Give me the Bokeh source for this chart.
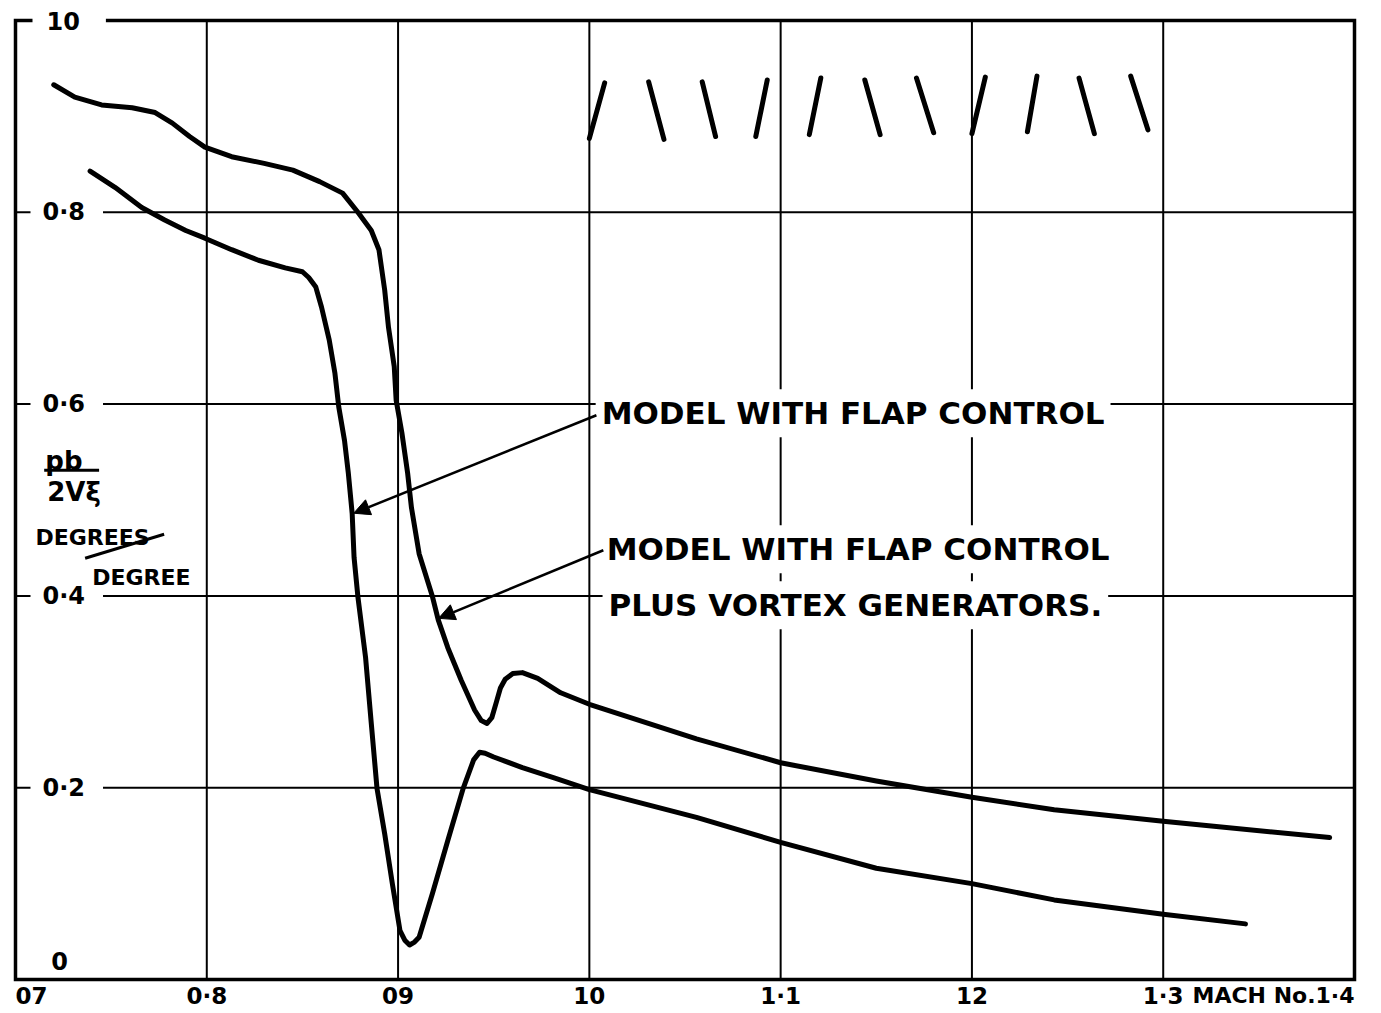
from bokeh.plotting import figure
from bokeh.models import Label, Arrow, NormalHead, Range1d
from bokeh.embed import file_html
from bokeh.resources import INLINE

# ---- data ----
# Model with flap control plus vortex generators (upper curve)
mach_vg = [0.720, 0.731, 0.745, 0.761, 0.773, 0.782, 0.791, 0.799, 0.813, 0.830,
           0.845, 0.859, 0.871, 0.879, 0.886, 0.890, 0.893, 0.895, 0.898, 0.899,
           0.902, 0.905, 0.907, 0.911, 0.918, 0.921, 0.926, 0.933, 0.940, 0.9435,
           0.9465, 0.949, 0.9515, 0.9535, 0.956, 0.960, 0.965, 0.973, 0.985, 1.000,
           1.056, 1.100, 1.150, 1.200, 1.243, 1.300, 1.387]
ratio_vg = [0.933, 0.920, 0.912, 0.909, 0.904, 0.893, 0.879, 0.868, 0.858, 0.851,
            0.844, 0.832, 0.820, 0.800, 0.781, 0.761, 0.719, 0.680, 0.639, 0.604,
            0.570, 0.528, 0.492, 0.444, 0.399, 0.375, 0.346, 0.312, 0.281, 0.270,
            0.267, 0.273, 0.290, 0.304, 0.313, 0.319, 0.320, 0.314, 0.299, 0.287,
            0.251, 0.226, 0.207, 0.190, 0.177, 0.165, 0.148]

# Model with flap control (lower curve)
mach_flap = [0.739, 0.752, 0.766, 0.778, 0.789, 0.799, 0.813, 0.827, 0.841, 0.850,
             0.8533, 0.857, 0.860, 0.864, 0.867, 0.869, 0.872, 0.874, 0.876, 0.877,
             0.879, 0.883, 0.886, 0.889, 0.893, 0.897, 0.901, 0.9035, 0.906, 0.9086,
             0.911, 0.918, 0.926, 0.934, 0.9395, 0.9426, 0.9455, 0.950, 0.965, 0.982,
             1.000, 1.056, 1.100, 1.150, 1.200, 1.243, 1.300, 1.343]
ratio_flap = [0.843, 0.826, 0.805, 0.792, 0.781, 0.773, 0.761, 0.750, 0.742, 0.738,
              0.732, 0.722, 0.701, 0.667, 0.632, 0.597, 0.562, 0.528, 0.486, 0.440,
              0.399, 0.336, 0.267, 0.199, 0.152, 0.100, 0.051, 0.041, 0.036, 0.039,
              0.044, 0.090, 0.145, 0.199, 0.229, 0.237, 0.236, 0.232, 0.221, 0.210,
              0.198, 0.169, 0.143, 0.116, 0.100, 0.083, 0.068, 0.058]

# vortex generator sketch marks
vg_x_bot = [1.000, 1.039, 1.066, 1.087, 1.115, 1.152, 1.180, 1.200, 1.229, 1.264, 1.292]
vg_x_top = [1.008, 1.031, 1.059, 1.093, 1.121, 1.144, 1.171, 1.207, 1.234, 1.256, 1.283]
vg_y_bot = [0.877, 0.876, 0.879, 0.879, 0.881, 0.881, 0.883, 0.882, 0.884, 0.882, 0.886]
vg_y_top = [0.935, 0.936, 0.936, 0.938, 0.940, 0.938, 0.940, 0.941, 0.942, 0.940, 0.942]

x_ticks = [0.7, 0.8, 0.9, 1.0, 1.1, 1.2, 1.3, 1.4]
x_tick_labels = ["07", "0·8", "09", "10", "1·1", "12", "1·3", "MACH No.1·4"]
x_grid = [0.8, 0.9, 1.0, 1.1, 1.2, 1.3]
y_ticks = [0.0, 0.2, 0.4, 0.6, 0.8, 1.0]
y_tick_labels = ["0", "0·2", "0·4", "0·6", "0·8", "10"]
y_grid = [0.2, 0.4, 0.6, 0.8]

label_flap = "MODEL WITH FLAP CONTROL"
label_vg_1 = "MODEL WITH FLAP CONTROL"
label_vg_2 = "PLUS VORTEX GENERATORS."

FONT = "DejaVu Sans"
INK = "black"

X0, X1 = x_ticks[0], x_ticks[-1]
Y0, Y1 = y_ticks[0], y_ticks[-1]
# margins around the drawn box (fraction of range), so that outside texts stay in the frame
x_rng = Range1d(X0 - 15 / 1913, X1 + 20 / 1913)
y_rng = Range1d(Y0 - 31 / 959, Y1 + 20 / 959)

p = figure(width=1374, height=1010, x_range=x_rng, y_range=y_rng,
           output_backend="svg", toolbar_location=None,
           x_axis_location=None, y_axis_location=None,
           min_border_left=0, min_border_right=0, min_border_top=0, min_border_bottom=0)
p.background_fill_color = "white"
p.border_fill_color = "white"
p.outline_line_color = None
p.xgrid.visible = False
p.ygrid.visible = False

# grid lines
p.segment(x0=x_grid, y0=[Y0] * len(x_grid), x1=x_grid, y1=[Y1] * len(x_grid),
          line_width=2, line_color=INK)
p.segment(x0=[X0] * len(y_grid), y0=y_grid, x1=[X1] * len(y_grid), y1=y_grid,
          line_width=2, line_color=INK)
# box
p.quad(left=[X0], right=[X1], bottom=[Y0], top=[Y1], fill_alpha=0,
       line_color=INK, line_width=3.5, line_join="miter")

# curves
p.line(mach_vg, ratio_vg, line_width=5, line_color=INK, line_join="round", line_cap="round")
p.line(mach_flap, ratio_flap, line_width=5, line_color=INK, line_join="round", line_cap="round")

# vortex generator marks
p.segment(x0=vg_x_bot, y0=vg_y_bot, x1=vg_x_top, y1=vg_y_top,
          line_width=5, line_color=INK, line_cap="round")


def txt(**kw):
    base = dict(text_font=FONT, text_font_style="bold", text_color=INK)
    base.update(kw)
    return Label(**base)


# y tick labels (inside the box, breaking the grid lines)
for v, s in zip(y_ticks[1:5], y_tick_labels[1:5]):
    p.add_layout(txt(x=X0, y=v, x_offset=15, text=s, text_font_size="24px",
                     text_baseline="middle", text_align="left",
                     background_fill_color="white", background_fill_alpha=1.0,
                     padding=dict(left=12, right=18, top=0, bottom=0)))
p.add_layout(txt(x=X0, y=Y1, x_offset=17, text=y_tick_labels[5], text_font_size="24px",
                 text_baseline="middle", text_align="left",
                 background_fill_color="white", background_fill_alpha=1.0,
                 padding=dict(left=14, right=26, top=0, bottom=0)))
p.add_layout(txt(x=X0, y=Y0, x_offset=44, y_offset=19, text=y_tick_labels[0],
                 text_font_size="24px", text_baseline="middle", text_align="center"))

# x tick labels below the box
for v, s in zip(x_ticks[1:7], x_tick_labels[1:7]):
    p.add_layout(txt(x=v, y=Y0, y_offset=-16, text=s, text_font_size="23px",
                     text_baseline="middle", text_align="center"))
p.add_layout(txt(x=X0, y=Y0, x_offset=16, y_offset=-16, text=x_tick_labels[0],
                 text_font_size="23px", text_baseline="middle", text_align="center"))
p.add_layout(txt(x=X1, y=Y0, x_offset=0, y_offset=-16, text=x_tick_labels[7],
                 text_font_size="22px", text_baseline="middle", text_align="right"))

# y axis title
p.add_layout(txt(x=0.7156, y=0.5405, text="pb", text_font_size="26px",
                 text_baseline="alphabetic", text_align="left"))
p.segment(x0=[0.7150], y0=[0.5310], x1=[0.7437], y1=[0.5310], line_width=3, line_color=INK)
p.add_layout(txt(x=0.7166, y=0.5081, text="2Vξ", text_font_size="26px",
                 text_baseline="alphabetic", text_align="left"))
p.add_layout(txt(x=0.7104, y=0.4611, text="DEGREES", text_font_size="22px",
                 text_baseline="alphabetic", text_align="left"))
p.segment(x0=[0.7364], y0=[0.4392], x1=[0.7777], y1=[0.4643], line_width=3, line_color=INK)
p.add_layout(txt(x=0.7401, y=0.4194, text="DEGREE", text_font_size="22px",
                 text_baseline="alphabetic", text_align="left", level="overlay"))

# curve labels
for (lx, ly, s) in [(1.0033, 0.5905, label_flap), (1.0059, 0.4486, label_vg_1),
                    (1.0069, 0.3902, label_vg_2)]:
    p.add_layout(txt(x=lx, y=ly, text=s, text_font_size="31px",
                     text_baseline="middle", text_align="left",
                     background_fill_color="white", background_fill_alpha=1.0, padding=6))

# arrows
p.add_layout(Arrow(end=NormalHead(size=16, fill_color=INK, line_color=INK, line_width=1),
                   x_start=1.0037, y_start=0.5884, x_end=0.8768, y_end=0.4862,
                   line_width=2.5, line_color=INK))
p.add_layout(Arrow(end=NormalHead(size=16, fill_color=INK, line_color=INK, line_width=1),
                   x_start=1.0073, y_start=0.4476, x_end=0.9212, y_end=0.3766,
                   line_width=2.5, line_color=INK))

open("out.html", "w").write(file_html(p, INLINE))
